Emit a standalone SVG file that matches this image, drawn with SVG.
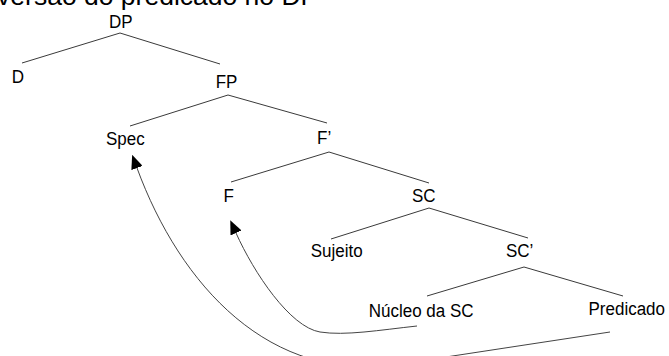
<svg xmlns="http://www.w3.org/2000/svg" width="669" height="356" viewBox="0 0 669 356">
  <style>
    text { font-family: "Liberation Sans", Arial, sans-serif; fill: #000; }
    .lbl { font-size: 18px; }
    .title { font-size: 26.5px; }
    .edge { stroke: #3a3a3a; stroke-width: 1; fill: none; }
    .move { stroke: #444; stroke-width: 1; fill: none; marker-end: url(#tri); }
  </style>
  <defs>
    <marker id="tri" markerUnits="userSpaceOnUse" viewBox="0 0 14 12" refX="0" refY="6" markerWidth="14" markerHeight="12" orient="auto">
      <path d="M0,0 L14,6 L0,12 z" fill="#000"/>
    </marker>
  </defs>

  <rect x="0" y="0" width="669" height="356" fill="#fff"/>

  <text class="title" x="-25" y="5">Inversão do predicado no DP</text>

  <!-- tree branches and movement arrows -->
  <g id="connectors">
    <path class="edge" d="M120,33 L22,63 M120,33 L220,64"/>
    <path class="edge" d="M228,95 L130,126 M228,95 L327,123"/>
    <path class="edge" d="M329,152 L231,182 M329,152 L429,183"/>
    <path class="edge" d="M429,208 L331,239 M429,208 L528,238"/>
    <path class="edge" d="M524,267 L427,296 M524,267 L623,296"/>
    <!-- Predicado raised to Spec -->
    <path class="move" d="M610,332 L400,364 C270,385 180,285 137,168"/>
    <!-- Núcleo da SC raised to F -->
    <path class="move" d="M417,326 C380,330 345,336 320,332 C290,327 254,273 236,233"/>
  </g>

  <g id="n-dp"><text class="lbl" x="109" y="28" textLength="23.6" lengthAdjust="spacingAndGlyphs">DP</text></g>
  <g id="n-d"><text class="lbl" x="11.7" y="83" textLength="12.3" lengthAdjust="spacingAndGlyphs">D</text></g>
  <g id="n-fp"><text class="lbl" x="215.7" y="87.5" textLength="21.7" lengthAdjust="spacingAndGlyphs">FP</text></g>
  <g id="n-spec"><text class="lbl" x="106" y="145" textLength="38.7" lengthAdjust="spacingAndGlyphs">Spec</text></g>
  <g id="n-fbar"><text class="lbl" x="317" y="143.5" textLength="14.2" lengthAdjust="spacingAndGlyphs">F’</text></g>
  <g id="n-f"><text class="lbl" x="223.6" y="202" textLength="10.4" lengthAdjust="spacingAndGlyphs">F</text></g>
  <g id="n-sc"><text class="lbl" x="412" y="202" textLength="23.6" lengthAdjust="spacingAndGlyphs">SC</text></g>
  <g id="n-sujeito"><text class="lbl" x="310.7" y="257" textLength="52" lengthAdjust="spacingAndGlyphs">Sujeito</text></g>
  <g id="n-scbar"><text class="lbl" x="506" y="257" textLength="27.4" lengthAdjust="spacingAndGlyphs">SC’</text></g>
  <g id="n-nucleo"><text class="lbl" x="368.7" y="317" textLength="104.9" lengthAdjust="spacingAndGlyphs">Núcleo da SC</text></g>
  <g id="n-predicado"><text class="lbl" x="588.5" y="315" textLength="76.5" lengthAdjust="spacingAndGlyphs">Predicado</text></g>
</svg>
